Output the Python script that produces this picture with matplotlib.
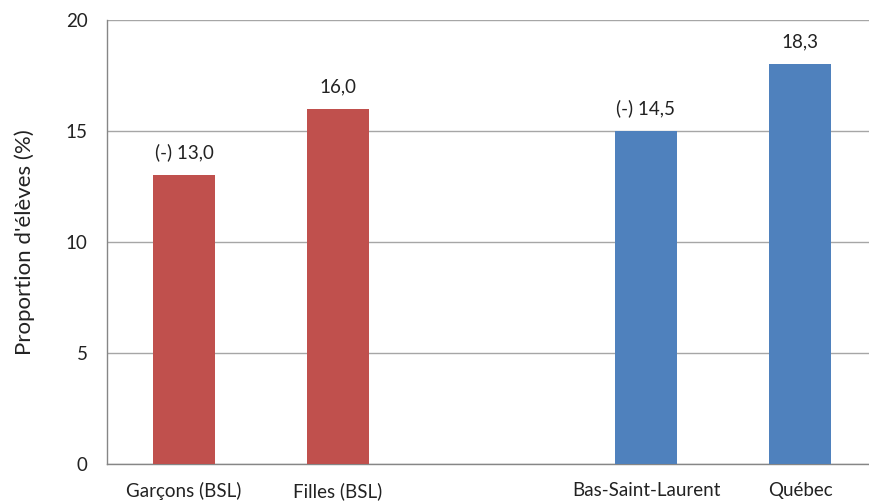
import matplotlib
matplotlib.use("Agg")
import matplotlib.pyplot as plt

categories = ["Garçons (BSL)", "Filles (BSL)", "", "Bas-Saint-Laurent", "Québec"]
values = [13.0, 16.0, None, 15.0, 18.0]
value_labels = ["(-) 13,0", "16,0", "", "(-) 14,5", "18,3"]
bar_colors = ["#C0504D", "#C0504D", None, "#4F81BD", "#4F81BD"]
yticks = [0, 5, 10, 15, 20]

plt.rcParams['font.family'] = ['Lato', 'DejaVu Sans']

W, H = 869, 501
fig = plt.figure(figsize=(W / 100, H / 100), dpi=100)
ax = fig.add_axes([107 / W, (H - 464) / H, (877 - 107) / W, (464 - 20) / H])

xs = list(range(len(categories)))
for x, v, c, lab in zip(xs, values, bar_colors, value_labels):
    if v is None:
        continue
    ax.bar(x, v, width=0.4, color=c, zorder=3)
    ax.annotate(lab, (x, v), xytext=(0, 10), textcoords="offset points",
                ha="center", va="bottom", fontsize=13.5, color="#222222")

ax.set_xlim(-0.5, len(categories) - 0.5)
ax.set_ylim(0, 20)
ax.set_yticks(yticks)
ax.set_yticklabels([str(t) for t in yticks])
ax.set_xticks(xs)
ax.set_xticklabels(categories)
ax.tick_params(axis="both", length=0, labelsize=13.5, colors="#222222")
ax.tick_params(axis="y", pad=14)
ax.tick_params(axis="x", pad=13)
ax.grid(axis="y", color="#A6A6A6", linewidth=1, zorder=0)
for s in ["top", "right"]:
    ax.spines[s].set_visible(False)
for s in ["left", "bottom"]:
    ax.spines[s].set_color("#868686")
    ax.spines[s].set_linewidth(1)
ax.set_ylabel("Proportion d'élèves (%)", fontsize=16, color="#222222", labelpad=22)

fig.savefig("out.png", dpi=100)
